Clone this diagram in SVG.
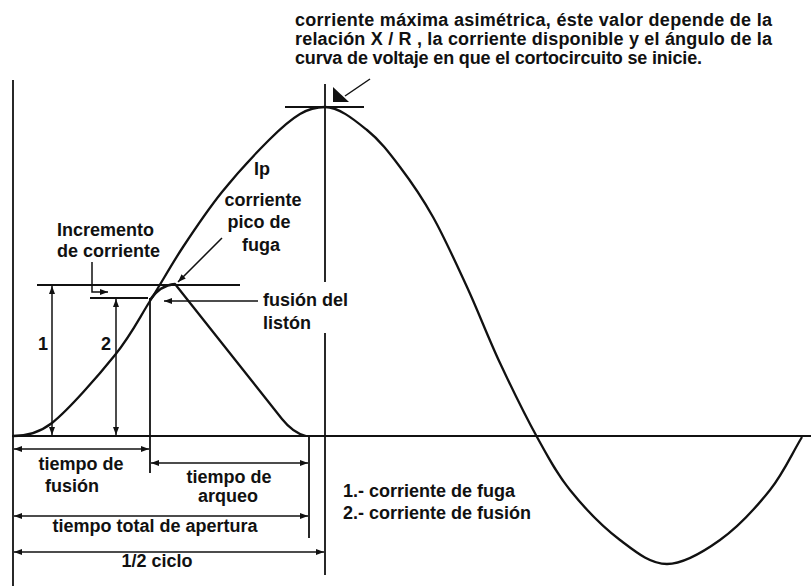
<svg xmlns="http://www.w3.org/2000/svg" width="811" height="586" viewBox="0 0 811 586">
<defs>
<marker id="ar" viewBox="0 0 8 6" refX="8" refY="3" markerWidth="8" markerHeight="6" markerUnits="userSpaceOnUse" orient="auto-start-reverse"><path d="M0,0 L8,3 L0,6 z" fill="#111"/></marker>
</defs>
<style>
.t{font-family:"Liberation Sans",Arial,sans-serif;font-weight:bold;font-size:18px;fill:#111}
.m{text-anchor:middle}
.ln{stroke:#111;stroke-width:1.8;fill:none}
.dim{stroke:#111;stroke-width:1.5;fill:none;marker-start:url(#ar);marker-end:url(#ar)}
.cv{stroke:#111;stroke-width:2.3;fill:none;stroke-linejoin:round}
</style>
<rect width="811" height="586" fill="#fff"/>
<g id="axes">
<line class="ln" x1="13" y1="80" x2="13" y2="586"/>
<line class="ln" x1="12" y1="436" x2="811" y2="436"/>
<line class="ln" x1="325" y1="84" x2="325" y2="282"/>
<line class="ln" x1="325" y1="333" x2="325" y2="575"/>
<line class="ln" x1="285" y1="107" x2="364" y2="107"/>
</g>
<g id="curves">
<path class="cv" d="M13,436 C26,436 39,433 52,423 C69,409.5 98.7,375.3 115,355 C131.3,334.7 138.7,319 150,301 C161.3,283 171,265.2 183,247 C195,228.8 207.7,209.8 222,192 C236.3,174.2 256,153 269,140 C282,127 290.7,119.5 300,114 C308.3,109.1 316.7,107 325,107 C339,107 354.5,120 367,130 C379.5,140 389,152.5 400,167 C411,181.5 421.8,197 433,217 C444.2,237 455.8,262.7 467,287 C478.2,311.3 488.3,338 500,363 C511.7,388 525.3,415.8 537,437 C548.7,458.2 556.2,472.8 570,490 C583.8,507.2 603.8,527.7 620,540 C636.2,552.3 650.3,564 667,564 C683.7,564 702.8,552.3 720,540 C737.2,527.7 756.3,507.2 770,490 C783.7,472.8 791.3,454.7 802,437"/>
<path class="cv" d="M150,300 C156,291 164,285 175,284 L282,419 C290,429 297,434 306,436"/>
</g>
<g id="dimensions">
<line class="ln" x1="37" y1="285" x2="240" y2="285"/>
<line class="ln" x1="90" y1="298" x2="148" y2="298"/>
<line class="dim" x1="52" y1="286" x2="52" y2="435"/>
<line class="dim" x1="116" y1="299" x2="116" y2="435"/>
<line class="ln" x1="150" y1="298" x2="150" y2="473"/>
<line class="ln" x1="309" y1="436" x2="309" y2="538"/>
<line class="dim" x1="14" y1="449" x2="149" y2="449"/>
<line class="dim" x1="151" y1="463" x2="308" y2="463"/>
<line class="dim" x1="14" y1="516" x2="308" y2="516"/>
<line class="dim" x1="14" y1="552" x2="324" y2="552"/>
</g>
<g id="leaders">
<polyline class="ln" style="stroke-width:1.5;marker-end:url(#ar)" points="92,262 92,292 108,292"/>
<line class="ln" style="stroke-width:1.5;marker-end:url(#ar)" x1="258" y1="301" x2="164" y2="301"/>
<line class="ln" style="stroke-width:1.5;marker-end:url(#ar)" x1="222" y1="238" x2="178" y2="282"/>
<line class="ln" style="stroke-width:1.5" x1="370" y1="79" x2="345" y2="96"/>
<polygon points="333,87 333,102 349,102" fill="#111"/>
</g>
<g id="labels">
<text class="t" x="295" y="26" textLength="477" lengthAdjust="spacing">corriente máxima asimétrica, éste valor depende de la</text>
<text class="t" x="295" y="45" textLength="477" lengthAdjust="spacing">relación X / R , la corriente disponible y el ángulo de la</text>
<text class="t" x="295" y="64" textLength="407" lengthAdjust="spacing">curva de voltaje en que el cortocircuito se inicie.</text>
<text class="t m" x="262" y="175">Ip</text>
<text class="t m" x="263" y="206">corriente</text>
<text class="t m" x="259" y="228">pico de</text>
<text class="t m" x="261" y="251">fuga</text>
<text class="t" x="57" y="236">Incremento</text>
<text class="t" x="57" y="257">de corriente</text>
<text class="t" x="263" y="306">fusión del</text>
<text class="t" x="263" y="329">listón</text>
<text class="t m" x="43" y="350">1</text>
<text class="t m" x="106" y="350">2</text>
<text class="t m" x="81" y="470">tiempo de</text>
<text class="t m" x="72" y="492">fusión</text>
<text class="t m" x="229" y="483">tiempo de</text>
<text class="t m" x="228" y="502">arqueo</text>
<text class="t m" x="155" y="532">tiempo total de apertura</text>
<text class="t m" x="157" y="567">1/2 ciclo</text>
<text class="t" x="343" y="497">1.- corriente de fuga</text>
<text class="t" x="343" y="519">2.- corriente de fusión</text>
</g>
</svg>
